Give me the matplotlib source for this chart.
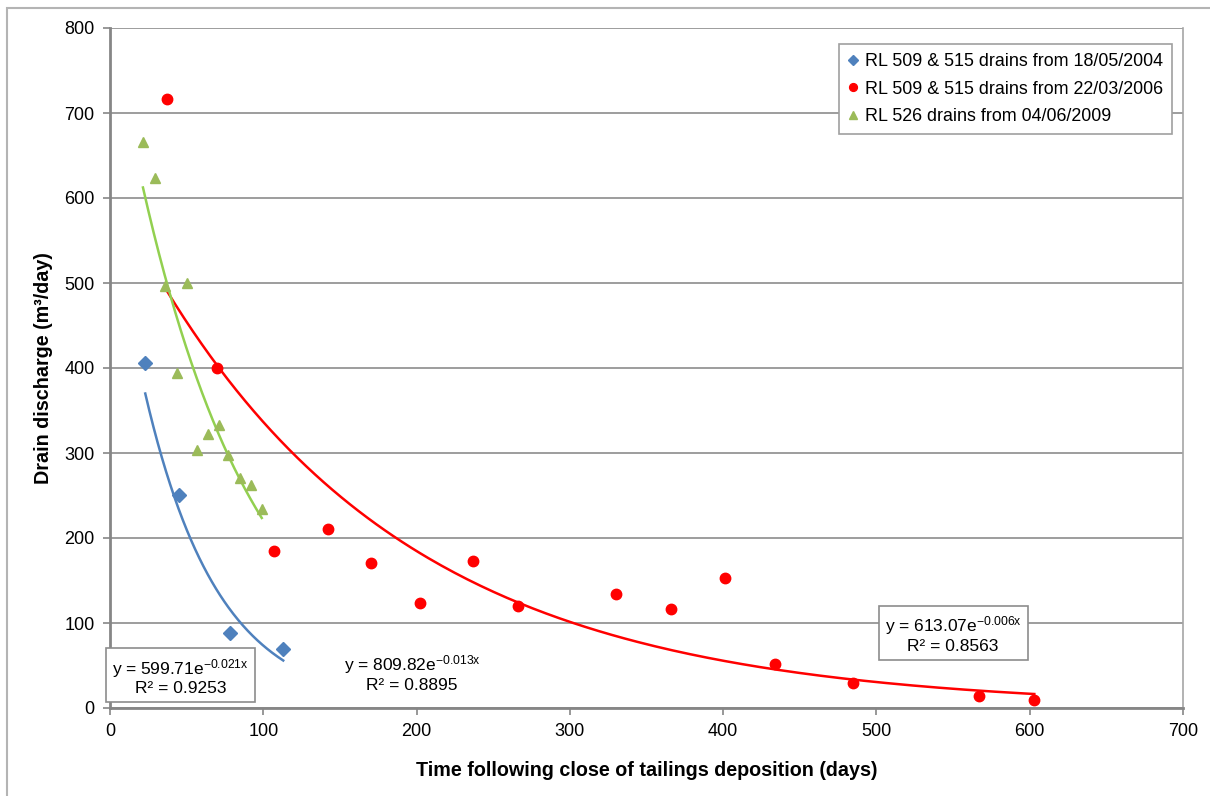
import numpy as np
import matplotlib
matplotlib.use('Agg')
import matplotlib.pyplot as plt
from matplotlib.patches import Rectangle

plt.rcParams['font.family'] = ['Liberation Sans', 'DejaVu Sans']
plt.rcParams['mathtext.fontset'] = 'custom'
plt.rcParams['mathtext.rm'] = 'Liberation Sans'
plt.rcParams['mathtext.it'] = 'Liberation Sans:italic'
plt.rcParams['mathtext.bf'] = 'Liberation Sans:bold'
plt.rcParams['mathtext.default'] = 'regular'

# data
blue_x = [23, 45, 78, 113]
blue_y = [406, 251, 88, 70]

red_x = [37, 70, 107, 142, 170, 202, 237, 266, 330, 366, 401, 434, 485, 567, 603]
red_y = [717, 400, 185, 211, 171, 123, 173, 120, 134, 116, 153, 52, 30, 14, 9]

green_x = [21.5, 29.5, 36, 50, 43.5, 57, 64, 71, 77, 85, 92, 99]
green_y = [666, 624, 497, 500, 394, 303, 322, 333, 298, 271, 262, 234]

# exponential trendline coefficients (a * exp(b*x)) and R²
blue_fit = (599.71, -0.021, 0.9253)
red_fit = (613.07, -0.006, 0.8563)
green_fit = (809.82, -0.013, 0.8895)

labels = ['RL 509 & 515 drains from 18/05/2004',
          'RL 509 & 515 drains from 22/03/2006',
          'RL 526 drains from 04/06/2009']

blue = '#4F81BD'
red = '#FF0000'
green = '#9BBB59'
green_line = '#92D050'
gray = '#868686'

fig = plt.figure(figsize=(12.1, 7.96), dpi=100)
ax = fig.add_axes([110/1210, 1-708/796, (1183-110)/1210, (708-28)/796])

# outer chart frame
fig.patches.append(Rectangle((7/1210, -0.5), 2, 1.5 - 8/796, transform=fig.transFigure,
                             fill=False, edgecolor='#b4b4b4', linewidth=1.5))


def trend(xs, fit, color):
    xx = np.linspace(min(xs), max(xs), 200)
    ax.plot(xx, fit[0]*np.exp(fit[1]*xx), color=color, linewidth=1.8, zorder=3)


trend(blue_x, blue_fit, blue)
trend(red_x, red_fit, red)
trend(green_x, green_fit, green_line)

ax.plot(blue_x, blue_y, 'D', color=blue, markersize=7, label=labels[0], zorder=4)
ax.plot(red_x, red_y, 'o', color=red, markersize=7.5, label=labels[1], zorder=4)
ax.plot(green_x, green_y, '^', color=green, markersize=7.5, label=labels[2], zorder=4)

ax.set_xlim(0, 700)
ax.set_ylim(0, 800)
ax.set_xticks(np.arange(0, 701, 100))
ax.set_yticks(np.arange(0, 801, 100))
ax.grid(axis='y', color='#8c8c8c', linewidth=1.2)
ax.set_axisbelow(True)
for s in ['left', 'bottom']:
    ax.spines[s].set_color(gray)
    ax.spines[s].set_linewidth(2)
ax.spines['right'].set_color('#a6a6a6')
ax.spines['right'].set_linewidth(1.2)
ax.spines['top'].set_visible(False)
ax.tick_params(axis='both', direction='out', length=5, width=1.2, color=gray,
               labelsize=13, pad=6)

ax.set_xlabel('Time following close of tailings deposition (days)', fontsize=14.2,
              fontweight='bold', labelpad=15)
ax.set_ylabel('Drain discharge (m³/day)', fontsize=14.2, fontweight='bold', labelpad=8)


def eq(fit):
    return 'y = %.2fe$^{%.3fx}$\nR² = %.4f' % (fit[0], fit[1], fit[2])


box = dict(boxstyle='square,pad=0.35', facecolor='white', edgecolor='#8c8c8c', linewidth=1.2)
ax.text(46, 37, eq(blue_fit), fontsize=12.5, ha='center', va='center',
        multialignment='center', bbox=box, zorder=5, linespacing=1.15)
ax.text(197, 41, eq(green_fit), fontsize=12.5, ha='center', va='center',
        multialignment='center', zorder=5, linespacing=1.15)
ax.text(550, 87, eq(red_fit), fontsize=12.5, ha='center', va='center',
        multialignment='center', bbox=box, zorder=5, linespacing=1.15)

leg = ax.legend(loc='upper right', bbox_to_anchor=(0.9897, 0.9765), borderaxespad=0,
                fontsize=12.9, markerscale=0.75, handlelength=0.6, handletextpad=0.35,
                borderpad=0.5, labelspacing=0.6, fancybox=False, framealpha=1)
leg.get_frame().set_edgecolor('#a0a0a0')
leg.get_frame().set_linewidth(1.2)

fig.savefig('out.png', dpi=100)
